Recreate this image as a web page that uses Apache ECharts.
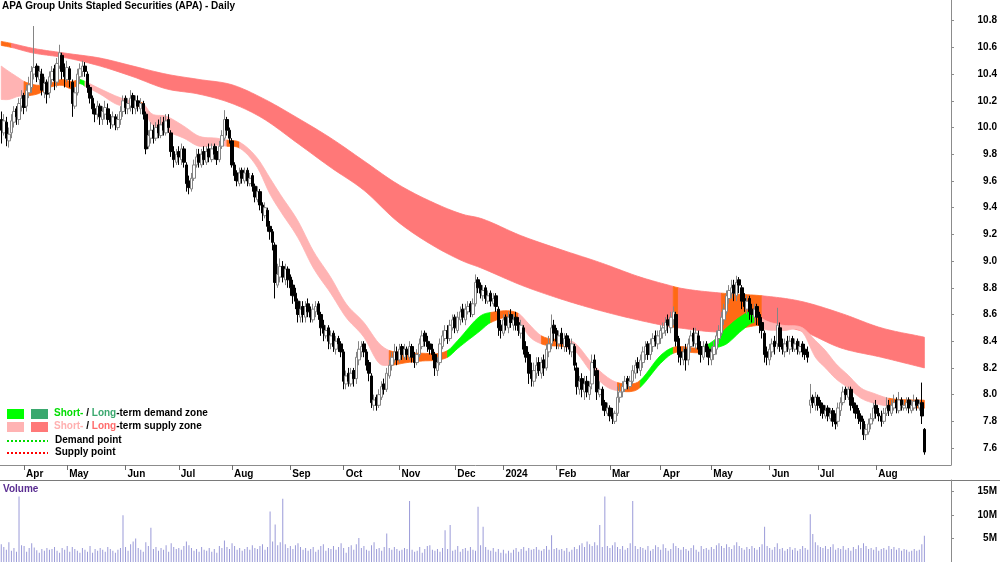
<!DOCTYPE html>
<html><head><meta charset="utf-8">
<script src="https://cdn.jsdelivr.net/npm/echarts@6/dist/echarts.min.js"></script>
<style>html,body{margin:0;padding:0;background:#fff}#c{width:1000px;height:562px}</style>
</head><body><div id="c"></div>
<script>
// ---------- categories ----------
const firstDate = '2023-03-21';
const categoryCount = 375;
const asxHolidays = ['2023-04-07','2023-04-10','2023-04-25','2023-06-12','2023-12-25','2023-12-26',
  '2024-01-01','2024-01-26','2024-03-29','2024-04-01','2024-04-25','2024-06-10'];
const monthNames = ['Jan','Feb','Mar','Apr','May','Jun','Jul','Aug','Sep','Oct','Nov','Dec'];

// ---------- daily prices ----------
const opens = [
10.06,9.96,10.04,9.90,9.96,10.04,10.14,10.06,10.16,10.24,
10.16,10.26,10.30,10.40,10.46,10.36,10.40,10.26,10.34,10.26,
10.36,10.44,10.34,10.46,10.54,10.44,10.36,10.44,10.34,10.16,
10.26,10.38,10.42,10.46,10.40,10.30,10.22,10.14,10.10,10.16,
10.06,10.10,10.14,10.08,10.02,10.08,10.00,10.06,10.12,10.22,
10.14,10.16,10.24,10.14,10.20,10.14,10.18,10.10,9.86,9.92,
9.98,9.92,10.02,9.94,10.04,9.96,10.06,9.96,9.82,9.74,
9.82,9.76,9.84,9.72,9.60,9.54,9.62,9.72,9.80,9.72,
9.82,9.74,9.84,9.76,9.86,9.82,9.76,9.86,9.92,10.06,
9.98,9.90,9.72,9.66,9.58,9.68,9.60,9.68,9.58,9.64,
9.56,9.46,9.52,9.42,9.34,9.38,9.26,9.22,9.12,8.82,
8.88,8.96,8.86,8.94,8.88,8.82,8.76,8.70,8.58,8.66,
8.58,8.68,8.62,8.56,8.62,8.68,8.60,8.52,8.44,8.50,
8.38,8.46,8.34,8.42,8.38,8.32,8.08,8.16,8.08,8.18,
8.12,8.26,8.32,8.38,8.32,8.24,8.14,7.92,7.98,7.92,
7.98,8.08,8.04,8.14,8.22,8.26,8.32,8.26,8.36,8.28,
8.34,8.28,8.36,8.30,8.24,8.30,8.36,8.46,8.40,8.38,
8.34,8.30,8.18,8.24,8.36,8.42,8.48,8.42,8.50,8.58,
8.48,8.56,8.64,8.56,8.62,8.68,8.60,8.68,8.86,8.82,
8.74,8.80,8.70,8.76,8.68,8.74,8.64,8.52,8.46,8.58,
8.50,8.60,8.52,8.58,8.54,8.46,8.50,8.36,8.30,8.18,
8.10,8.16,8.24,8.16,8.26,8.20,8.32,8.38,8.52,8.48,
8.38,8.46,8.36,8.44,8.38,8.32,8.36,8.20,8.04,8.12,
8.02,8.10,8.00,8.08,8.26,8.18,8.00,8.04,7.94,7.86,
7.90,7.86,7.80,7.86,7.98,8.02,8.04,8.12,8.06,8.10,
8.16,8.24,8.18,8.24,8.30,8.38,8.30,8.36,8.44,8.38,
8.42,8.46,8.48,8.56,8.50,8.56,8.60,8.42,8.32,8.26,
8.34,8.26,8.36,8.46,8.38,8.44,8.36,8.28,8.38,8.34,
8.26,8.30,8.34,8.42,8.46,8.56,8.62,8.72,8.76,8.82,
8.74,8.86,8.80,8.72,8.64,8.72,8.64,8.58,8.66,8.60,
8.54,8.46,8.32,8.26,8.32,8.40,8.38,8.50,8.38,8.32,
8.40,8.34,8.42,8.34,8.40,8.32,8.38,8.34,8.32,7.92,
7.98,7.92,7.98,7.94,7.92,7.84,7.90,7.82,7.88,7.82,
7.80,7.88,7.94,8.04,7.98,8.04,7.94,7.92,7.88,7.84,
7.80,7.70,7.72,7.78,7.82,7.92,7.86,7.84,7.80,7.86,
7.92,7.86,7.90,7.96,7.88,7.96,7.90,7.90,7.96,7.88,
7.90,7.96,7.90,7.94,7.74];
const closes = [
9.98,10.05,9.92,9.95,10.05,10.12,10.08,10.18,10.22,10.15,
10.28,10.32,10.42,10.45,10.38,10.42,10.28,10.33,10.25,10.38,
10.42,10.35,10.48,10.56,10.42,10.38,10.45,10.36,10.18,10.26,
10.40,10.44,10.46,10.42,10.30,10.22,10.14,10.10,10.16,10.08,
10.12,10.15,10.06,10.04,10.08,10.02,10.06,10.12,10.20,10.15,
10.18,10.22,10.15,10.20,10.16,10.18,10.10,9.84,9.94,9.98,
9.92,10.00,9.96,10.02,9.98,10.05,10.00,9.82,9.76,9.80,
9.78,9.84,9.74,9.58,9.55,9.62,9.72,9.78,9.74,9.80,
9.76,9.82,9.78,9.84,9.80,9.76,9.86,9.94,10.06,9.98,
9.92,9.72,9.64,9.60,9.66,9.62,9.66,9.60,9.62,9.56,
9.48,9.52,9.42,9.36,9.40,9.26,9.22,9.14,8.84,8.90,
8.96,8.88,8.94,8.86,8.80,8.74,8.70,8.60,8.64,8.60,
8.66,8.62,8.58,8.64,8.66,8.60,8.50,8.46,8.48,8.40,
8.44,8.36,8.40,8.38,8.32,8.10,8.14,8.10,8.16,8.12,
8.28,8.34,8.36,8.32,8.22,8.16,7.94,7.96,7.92,8.00,
8.06,8.04,8.16,8.22,8.28,8.32,8.26,8.34,8.30,8.34,
8.30,8.36,8.28,8.24,8.30,8.38,8.44,8.40,8.36,8.34,
8.30,8.20,8.24,8.38,8.44,8.48,8.42,8.52,8.56,8.50,
8.58,8.62,8.58,8.64,8.66,8.62,8.68,8.84,8.80,8.76,
8.78,8.72,8.74,8.70,8.72,8.66,8.50,8.48,8.56,8.52,
8.58,8.54,8.56,8.52,8.48,8.52,8.34,8.28,8.16,8.12,
8.18,8.22,8.18,8.24,8.20,8.34,8.38,8.50,8.46,8.40,
8.44,8.38,8.42,8.36,8.34,8.38,8.22,8.06,8.10,8.04,
8.08,8.02,8.06,8.24,8.20,8.02,8.04,7.92,7.88,7.90,
7.84,7.82,7.86,7.98,8.02,8.06,8.10,8.08,8.10,8.18,
8.22,8.20,8.26,8.32,8.36,8.30,8.38,8.42,8.40,8.44,
8.48,8.50,8.54,8.52,8.58,8.62,8.40,8.30,8.28,8.32,
8.26,8.38,8.44,8.40,8.46,8.34,8.30,8.36,8.32,8.28,
8.32,8.36,8.44,8.48,8.58,8.64,8.74,8.78,8.80,8.76,
8.84,8.82,8.70,8.66,8.70,8.62,8.60,8.64,8.58,8.52,
8.48,8.30,8.28,8.34,8.38,8.36,8.52,8.36,8.34,8.38,
8.36,8.40,8.36,8.38,8.34,8.36,8.32,8.30,8.28,7.96,
7.94,7.98,7.92,7.90,7.86,7.88,7.84,7.86,7.80,7.78,
7.90,7.94,8.02,8.00,8.04,7.92,7.90,7.86,7.82,7.80,
7.70,7.74,7.78,7.82,7.90,7.86,7.84,7.80,7.86,7.90,
7.88,7.92,7.94,7.90,7.96,7.92,7.92,7.94,7.90,7.92,
7.95,7.92,7.93,7.84,7.57];
const highs = [
10.12,10.10,10.08,10.00,10.10,10.16,10.16,10.22,10.28,10.26,
10.32,10.38,10.46,10.76,10.48,10.46,10.44,10.38,10.36,10.42,
10.46,10.47,10.52,10.62,10.56,10.48,10.50,10.46,10.36,10.30,
10.44,10.48,10.50,10.49,10.42,10.32,10.24,10.18,10.20,10.18,
10.16,10.20,10.18,10.10,10.12,10.10,10.10,10.16,10.24,10.24,
10.22,10.28,10.26,10.24,10.24,10.22,10.20,10.12,9.98,10.04,
10.02,10.04,10.06,10.08,10.08,10.10,10.10,9.98,9.86,9.84,
9.86,9.88,9.86,9.74,9.64,9.66,9.76,9.84,9.84,9.84,
9.86,9.86,9.88,9.88,9.88,9.86,9.90,9.98,10.13,10.08,
10.00,9.92,9.74,9.68,9.70,9.70,9.70,9.70,9.66,9.66,
9.58,9.56,9.54,9.44,9.44,9.40,9.30,9.24,9.14,8.98,
9.02,9.00,8.98,8.96,8.90,8.86,8.80,8.72,8.70,8.70,
8.70,8.72,8.66,8.68,8.70,8.70,8.62,8.56,8.52,8.52,
8.48,8.48,8.44,8.44,8.40,8.34,8.18,8.20,8.20,8.20,
8.32,8.40,8.40,8.40,8.34,8.26,8.16,8.00,8.00,8.04,
8.10,8.12,8.20,8.26,8.32,8.38,8.36,8.38,8.38,8.38,
8.36,8.40,8.38,8.32,8.34,8.42,8.48,8.48,8.44,8.40,
8.38,8.32,8.28,8.42,8.48,8.52,8.52,8.56,8.60,8.60,
8.62,8.66,8.68,8.68,8.70,8.70,8.72,8.90,8.88,8.84,
8.82,8.82,8.78,8.78,8.76,8.76,8.66,8.56,8.60,8.60,
8.62,8.64,8.60,8.62,8.58,8.56,8.52,8.40,8.32,8.24,
8.24,8.28,8.28,8.28,8.30,8.38,8.44,8.60,8.56,8.50,
8.48,8.50,8.46,8.46,8.42,8.42,8.38,8.24,8.14,8.16,
8.14,8.14,8.10,8.30,8.30,8.20,8.10,8.06,7.96,7.94,
7.92,7.90,7.88,8.06,8.08,8.10,8.14,8.14,8.14,8.22,
8.26,8.28,8.30,8.36,8.40,8.40,8.42,8.46,8.48,8.48,
8.52,8.54,8.58,8.60,8.62,8.66,8.62,8.44,8.36,8.36,
8.38,8.42,8.48,8.50,8.50,8.48,8.40,8.40,8.40,8.36,
8.36,8.40,8.48,8.52,8.62,8.68,8.78,8.82,8.86,8.86,
8.89,8.88,8.82,8.76,8.74,8.74,8.68,8.68,8.68,8.62,
8.58,8.48,8.36,8.38,8.42,8.44,8.65,8.54,8.42,8.42,
8.44,8.44,8.44,8.42,8.42,8.40,8.40,8.38,8.36,8.08,
8.00,8.02,8.00,7.96,7.94,7.92,7.92,7.90,7.90,7.86,
7.94,7.98,8.06,8.06,8.06,8.06,7.98,7.94,7.90,7.86,
7.82,7.78,7.82,7.86,7.94,7.96,7.90,7.88,7.90,7.98,
7.96,7.96,8.00,7.98,8.02,7.98,7.96,7.98,7.98,7.96,
8.00,7.98,7.96,8.09,7.75];
const lows = [
9.88,9.94,9.86,9.85,9.92,10.00,10.02,10.02,10.12,10.10,
10.12,10.22,10.26,10.36,10.34,10.32,10.24,10.22,10.18,10.22,
10.32,10.28,10.30,10.44,10.36,10.30,10.34,10.30,10.08,10.14,
10.24,10.34,10.38,10.38,10.26,10.18,10.10,10.04,10.06,10.02,
10.02,10.06,10.02,9.99,10.00,9.98,9.98,10.02,10.08,10.10,
10.10,10.12,10.10,10.10,10.12,10.10,10.06,9.80,9.84,9.88,
9.88,9.90,9.92,9.92,9.94,9.94,9.96,9.78,9.70,9.72,
9.72,9.72,9.70,9.52,9.50,9.52,9.60,9.70,9.70,9.70,
9.72,9.72,9.74,9.74,9.76,9.72,9.74,9.84,9.90,9.94,
9.88,9.70,9.60,9.56,9.56,9.58,9.58,9.56,9.56,9.52,
9.44,9.44,9.38,9.30,9.32,9.22,9.16,9.08,8.72,8.80,
8.84,8.84,8.82,8.80,8.74,8.68,8.64,8.54,8.54,8.54,
8.54,8.58,8.54,8.54,8.58,8.56,8.44,8.40,8.42,8.34,
8.34,8.32,8.30,8.32,8.28,8.04,8.04,8.06,8.06,8.06,
8.08,8.22,8.28,8.28,8.18,8.10,7.90,7.88,7.88,7.90,
7.96,8.00,8.02,8.12,8.18,8.24,8.22,8.24,8.26,8.26,
8.26,8.26,8.24,8.20,8.22,8.28,8.34,8.36,8.32,8.30,
8.26,8.14,8.14,8.22,8.34,8.40,8.38,8.40,8.48,8.46,
8.46,8.52,8.54,8.52,8.60,8.58,8.58,8.66,8.76,8.72,
8.70,8.68,8.68,8.66,8.66,8.62,8.44,8.42,8.44,8.48,
8.46,8.50,8.48,8.48,8.44,8.42,8.30,8.24,8.08,8.06,
8.06,8.12,8.14,8.12,8.14,8.18,8.28,8.34,8.40,8.34,
8.34,8.34,8.32,8.32,8.30,8.28,8.18,8.00,8.00,7.98,
7.96,7.98,7.96,8.04,8.14,7.96,7.98,7.88,7.84,7.84,
7.80,7.78,7.78,7.84,7.94,7.98,8.02,8.04,8.04,8.08,
8.12,8.16,8.14,8.20,8.26,8.26,8.26,8.32,8.36,8.34,
8.38,8.42,8.44,8.46,8.46,8.52,8.36,8.24,8.22,8.22,
8.18,8.22,8.32,8.36,8.34,8.30,8.24,8.26,8.28,8.22,
8.22,8.26,8.30,8.38,8.44,8.52,8.60,8.68,8.72,8.70,
8.70,8.76,8.64,8.62,8.60,8.56,8.54,8.54,8.52,8.46,
8.42,8.24,8.22,8.22,8.28,8.30,8.34,8.32,8.30,8.28,
8.32,8.30,8.32,8.32,8.30,8.30,8.28,8.26,8.24,7.86,
7.90,7.88,7.88,7.84,7.82,7.82,7.80,7.80,7.76,7.74,
7.76,7.84,7.92,7.96,7.96,7.88,7.86,7.82,7.78,7.74,
7.66,7.66,7.70,7.74,7.80,7.82,7.80,7.76,7.78,7.84,
7.84,7.84,7.88,7.86,7.86,7.88,7.88,7.88,7.86,7.86,
7.88,7.88,7.88,7.78,7.55];
// volume in millions of units
const volumes = [
3.8,3.2,2.6,4.2,2.4,3.0,2.2,14.0,3.6,3.4,
2.2,3.0,4.0,3.1,2.5,2.0,2.8,2.4,3.0,2.6,
2.8,3.2,2.4,2.0,3.0,2.6,3.4,2.2,3.2,2.8,
2.4,2.0,3.0,2.6,2.2,3.4,2.0,2.8,2.4,3.0,
2.6,2.2,3.2,2.8,2.4,2.0,2.6,3.0,10.0,3.2,
2.4,3.8,4.4,5.0,3.0,2.6,2.2,4.2,3.4,7.3,
2.8,3.2,2.4,3.0,2.6,3.6,2.2,4.0,3.2,2.8,
3.0,2.6,3.4,4.4,3.6,3.0,2.4,2.8,2.2,3.2,
2.6,2.4,3.0,2.2,2.8,2.0,3.4,3.0,4.6,3.2,
2.8,4.0,3.4,2.6,3.0,2.4,2.8,3.2,2.6,3.6,
3.0,2.8,3.4,3.8,2.6,3.2,10.8,4.4,8.0,3.6,
4.2,13.5,3.8,3.0,3.4,2.8,3.6,4.0,3.2,2.6,
3.0,2.4,2.8,3.2,2.2,2.6,3.4,3.8,2.4,3.0,
2.8,3.4,2.6,3.2,4.0,3.0,2.0,3.2,3.6,2.6,
3.8,5.1,3.0,3.4,2.6,2.4,3.6,4.2,2.8,3.0,
2.4,3.2,6.1,3.0,2.6,3.2,2.8,2.4,2.6,3.0,
2.8,13.0,2.6,2.2,2.4,3.2,2.0,2.8,3.4,3.6,
2.6,2.4,2.8,2.2,3.0,6.8,2.8,7.9,2.4,2.6,
3.4,2.2,2.8,3.0,2.4,3.2,2.6,2.4,11.8,3.6,
7.5,3.2,2.6,2.4,3.0,2.2,2.8,2.0,2.6,1.8,
2.4,2.0,2.6,3.0,2.2,2.8,3.2,2.4,3.0,2.6,
2.8,3.2,2.6,2.4,2.8,3.4,2.6,5.7,2.8,3.0,
2.6,2.8,2.4,3.0,2.2,2.6,3.2,2.8,3.6,4.0,
3.2,4.4,3.8,3.4,4.2,3.6,7.9,3.2,14.0,3.4,
3.0,3.6,4.2,3.2,2.8,3.4,2.6,3.0,4.0,13.0,
3.4,2.8,3.2,3.0,2.6,3.4,2.4,2.8,3.6,3.2,
2.6,3.8,3.0,2.4,2.8,4.0,3.4,3.0,2.6,3.2,
2.8,2.4,3.0,3.6,2.6,2.2,3.4,2.8,3.0,2.6,
3.2,2.8,3.6,4.0,3.4,3.0,3.8,3.2,2.8,3.6,
4.2,3.4,3.0,2.6,3.2,2.8,3.4,3.0,2.6,3.2,
3.8,7.5,3.4,3.0,2.6,3.2,4.0,2.8,3.0,2.4,
2.8,3.2,2.6,3.0,2.4,2.8,3.4,3.0,2.6,10.2,
6.0,4.2,3.6,3.2,3.0,3.4,2.8,3.2,3.8,2.6,
3.0,2.8,3.4,2.6,3.0,2.4,3.2,2.8,3.6,3.0,
4.0,3.4,2.8,3.0,2.6,3.2,2.4,2.8,3.0,2.6,
3.4,2.8,3.2,2.6,3.0,2.4,2.8,2.6,2.2,2.4,
2.8,2.4,2.6,3.8,5.6];

// ---------- trend zones (zone: S supply, D demand, M mixed) ----------
const shortIdx  = [0,3,7,9,15,19,24,28,31,33,39,46,51,56,59,65,72,78,85,89,94,101,106,110,117,123,130,136,143,149,153,160,165,176,180,189,193,204,208,213,223,226,233,239,243,250,252,260,265,276,281,286,292,297,300,308,316,321,325,329,334,339,344,350,364];
const shortTop  = [10.46,10.42,10.37,10.345,10.316,10.33,10.36,10.345,10.36,10.345,10.29,10.23,10.20,10.18,10.107,10.085,10.01,9.935,9.92,9.906,9.89,9.77,9.62,9.50,9.30,9.077,8.876,8.68,8.54,8.383,8.33,8.316,8.31,8.33,8.406,8.59,8.615,8.607,8.53,8.44,8.406,8.39,8.234,8.13,8.09,8.085,8.107,8.294,8.354,8.354,8.406,8.50,8.59,8.63,8.57,8.52,8.50,8.406,8.33,8.234,8.145,8.05,8.01,7.973,7.958];
const shortBot  = [10.21,10.21,10.235,10.235,10.256,10.30,10.316,10.29,10.33,10.31,10.25,10.17,10.16,10.137,10.033,9.973,9.92,9.86,9.868,9.86,9.846,9.70,9.50,9.376,9.174,8.95,8.756,8.577,8.43,8.234,8.22,8.24,8.25,8.28,8.346,8.48,8.54,8.555,8.44,8.38,8.354,8.33,8.16,8.055,8.03,8.03,8.055,8.234,8.31,8.316,8.346,8.38,8.48,8.54,8.496,8.48,8.466,8.28,8.20,8.12,8.05,7.973,7.936,7.913,7.898];
const shortZone = ['S','S','S','M','M','M','M','M','D','S','S','S','M','S','S','S','S','S','S','M','S','S','S','S','S','S','S','S','S','S','M','M','M','D','D','D','M','S','S','M','S','S','S','S','M','M','D','D','M','D','D','D','D','M','S','S','S','S','S','S','S','S','S','M','M'];
const longIdx   = [0,4,12,26,39,52,65,78,91,103,117,130,143,156,169,182,189,205,220,236,252,265,267,284,300,315,331,347,364];
const longTop   = [10.645,10.63,10.595,10.555,10.52,10.46,10.40,10.36,10.32,10.22,10.07,9.92,9.75,9.58,9.45,9.35,9.32,9.19,9.09,8.99,8.88,8.81,8.80,8.76,8.74,8.70,8.61,8.50,8.43];
const longBot   = [10.615,10.60,10.56,10.52,10.46,10.38,10.29,10.25,10.18,10.07,9.88,9.70,9.53,9.30,9.13,9.00,8.95,8.82,8.72,8.63,8.555,8.505,8.50,8.47,8.52,8.48,8.35,8.28,8.20];
const longZone  = ['M','S','S','S','S','S','S','S','S','S','S','S','S','S','S','S','S','S','S','S','S','M','S','M','S','S','S','S','S'];

// ---------- build ----------
function tradingDays(start, n, hol) {
  const out = []; const d = new Date(start + 'T00:00:00Z');
  while (out.length < n) {
    const dow = d.getUTCDay(); const s = d.toISOString().slice(0, 10);
    if (dow !== 0 && dow !== 6 && hol.indexOf(s) < 0) out.push(s);
    d.setUTCDate(d.getUTCDate() + 1);
  }
  return out;
}
const dates = tradingDays(firstDate, categoryCount, asxHolidays);
const monthStart = dates.map((s, k) => k > 0 && k < closes.length && s.slice(0, 7) !== dates[k - 1].slice(0, 7));
const isMonthStart = (k) => monthStart[k];
const monthLabel = (v) => { const m = +v.slice(5, 7); return m === 1 ? v.slice(0, 4) : monthNames[m - 1]; };

const candles = closes.map((c, i) => [opens[i], c, lows[i], highs[i]]);
const zoneCode = { S: 0, D: 1, M: 2 };
// consecutive segments of one zone become one run [firstSample, lastSample, zone]
function zoneRuns(zone, n) {
  const out = []; let s = 0;
  for (let k = 1; k < n - 1; k++) if (zone[k] !== zone[s]) { out.push([s, k, zoneCode[zone[s]]]); s = k; }
  out.push([s, n - 1, zoneCode[zone[s]]]);
  return out;
}
// smooth (cubic Hermite) outline through the pixel positions of the samples
function slopesOf(P) {
  const d = [];
  for (let k = 0; k < P.length - 1; k++) { const h = P[k + 1][0] - P[k][0]; d.push(h ? (P[k + 1][1] - P[k][1]) / h : 0); }
  return P.map((p, k) => k === 0 ? d[0] : k === P.length - 1 ? d[d.length - 1] : (d[k - 1] + d[k]) / 2);
}
function curve(P, s, e) {
  const m = slopesOf(P); const out = [];
  for (let k = s; k < e; k++) {
    const x0 = P[k][0], y0 = P[k][1], x1 = P[k + 1][0], y1 = P[k + 1][1], h = x1 - x0;
    const steps = Math.max(2, Math.ceil(h / 3));
    for (let j = 0; j < steps; j++) {
      const t = j / steps, t2 = t * t, t3 = t2 * t;
      const y = (2 * t3 - 3 * t2 + 1) * y0 + (t3 - 2 * t2 + t) * h * m[k] + (-2 * t3 + 3 * t2) * y1 + (t3 - t2) * h * m[k + 1];
      out.push([x0 + t * h, y]);
    }
  }
  out.push(P[e]);
  return out;
}
function bandRenderer(idx, top, bot, colors) {
  return function (params, api) {
    const s = api.value(0), e = api.value(1), col = colors[api.value(2)];
    const T = idx.map((x, k) => api.coord([x, top[k]]));
    const B = idx.map((x, k) => api.coord([x, bot[k]]));
    const pts = curve(T, s, e).concat(curve(B, s, e).reverse());
    return { type: 'polygon', shape: { points: pts }, style: { fill: col, stroke: col, lineWidth: 0.8 } };
  };
}
const shortColors = ['#ffb3b3', '#00ff00', '#ff6a14'];
const longColors  = ['#ff7878', '#3aa86e', '#ff6a14'];

const FONT = '"Liberation Sans", Arial, sans-serif';
const lblStyle = { color: '#000', fontSize: 10, fontWeight: 'bold', fontFamily: FONT };
const chart = echarts.init(document.getElementById('c'), null, { renderer: 'canvas', width: 1000, height: 562 });
chart.setOption({
  animation: false,
  backgroundColor: '#ffffff',
  grid: [
    { left: 0, top: 0, width: 952, height: 465 },
    { left: 0, top: 480, width: 952, height: 86 }
  ],
  xAxis: [
    { type: 'category', gridIndex: 0, data: dates, boundaryGap: true,
      axisLine: { show: true, lineStyle: { color: '#8c8c8c', width: 1 } },
      axisTick: { show: true, alignWithLabel: true, interval: isMonthStart, length: 5, lineStyle: { color: '#6e6e6e' } },
      axisLabel: Object.assign({ show: true, interval: isMonthStart, formatter: monthLabel, align: 'left', margin: 4, padding: [0, 0, 0, 2] }, lblStyle),
      splitLine: { show: false } },
    { type: 'category', gridIndex: 1, data: dates, boundaryGap: true,
      axisLine: { show: false }, axisTick: { show: false }, axisLabel: { show: false }, splitLine: { show: false } }
  ],
  yAxis: [
    { type: 'value', gridIndex: 0, position: 'right', min: 7.473, max: 10.955, splitNumber: 17, minInterval: 0.2, maxInterval: 0.2,
      axisLine: { show: true, lineStyle: { color: '#8c8c8c' } },
      axisTick: { show: true, length: 3, lineStyle: { color: '#8c8c8c' } },
      axisLabel: Object.assign({ margin: 46, align: 'right', padding: [3, 0, 0, 0], showMinLabel: false, showMaxLabel: false,
        formatter: (v) => v.toFixed(1) }, lblStyle),
      splitLine: { show: false } },
    { type: 'value', gridIndex: 1, position: 'right', min: 0, max: 17.5, interval: 5,
      axisLine: { show: true, lineStyle: { color: '#8c8c8c' } },
      axisTick: { show: true, length: 3, lineStyle: { color: '#8c8c8c' } },
      axisLabel: Object.assign({ margin: 46, align: 'right', padding: [2, 0, 0, 0], showMinLabel: false, showMaxLabel: false,
        formatter: (v) => v + 'M' }, lblStyle),
      splitLine: { show: false } }
  ],
  series: [
    { type: 'custom', name: 'Long-term zone', xAxisIndex: 0, yAxisIndex: 0, z: 1, silent: true, clip: true,
      renderItem: bandRenderer(longIdx, longTop, longBot, longColors), data: zoneRuns(longZone, longIdx.length) },
    { type: 'custom', name: 'Short-term zone', xAxisIndex: 0, yAxisIndex: 0, z: 2, silent: true, clip: true,
      renderItem: bandRenderer(shortIdx, shortTop, shortBot, shortColors), data: zoneRuns(shortZone, shortIdx.length) },
    { type: 'candlestick', name: 'APA', xAxisIndex: 0, yAxisIndex: 0, z: 3, barWidth: 3, data: candles,
      itemStyle: { color: '#ffffff', color0: '#000000', borderColor: '#858585', borderColor0: '#000000', borderWidth: 1 } },
    { type: 'bar', name: 'Volume', xAxisIndex: 1, yAxisIndex: 1, barWidth: 1, data: volumes,
      itemStyle: { color: '#9a9ad8' } }
  ],
  graphic: [
    { type: 'text', left: 2, top: 1, style: { text: 'APA Group Units Stapled Securities (APA) - Daily', font: 'bold 10px ' + FONT, fill: '#000' } },
    { type: 'line', shape: { x1: 0, y1: 480.5, x2: 1000, y2: 480.5 }, style: { stroke: '#7a7a7a', lineWidth: 1 } },
    { type: 'text', left: 3, top: 484, style: { text: 'Volume', font: 'bold 10px ' + FONT, fill: '#5a2d91' } },
    { type: 'rect', shape: { x: 7, y: 409, width: 17, height: 10 }, style: { fill: '#00ff00' } },
    { type: 'rect', shape: { x: 31, y: 409, width: 17, height: 10 }, style: { fill: '#3aa86e' } },
    { type: 'rect', shape: { x: 7, y: 422, width: 17, height: 10 }, style: { fill: '#ffb3b3' } },
    { type: 'rect', shape: { x: 31, y: 422, width: 17, height: 10 }, style: { fill: '#ff7878' } },
    { type: 'line', shape: { x1: 7, y1: 441, x2: 48, y2: 441 }, style: { stroke: '#00dd00', lineWidth: 2, lineDash: [2, 2] } },
    { type: 'line', shape: { x1: 7, y1: 453, x2: 48, y2: 453 }, style: { stroke: '#ff0000', lineWidth: 2, lineDash: [2, 2] } },
    { type: 'text', left: 54, top: 408, style: { text: '{a|Short-} / {b|Long}-term demand zone', font: 'bold 10px ' + FONT, fill: '#000',
        rich: { a: { fill: '#00dd00', font: 'bold 10px ' + FONT }, b: { fill: '#3aa86e', font: 'bold 10px ' + FONT } } } },
    { type: 'text', left: 54, top: 421, style: { text: '{a|Short-} / {b|Long}-term supply zone', font: 'bold 10px ' + FONT, fill: '#000',
        rich: { a: { fill: '#ffb0b0', font: 'bold 10px ' + FONT }, b: { fill: '#ff6b6b', font: 'bold 10px ' + FONT } } } },
    { type: 'text', left: 55, top: 435, style: { text: 'Demand point', font: 'bold 10px ' + FONT, fill: '#000' } },
    { type: 'text', left: 55, top: 447, style: { text: 'Supply point', font: 'bold 10px ' + FONT, fill: '#000' } }
  ]
});
</script></body></html>
